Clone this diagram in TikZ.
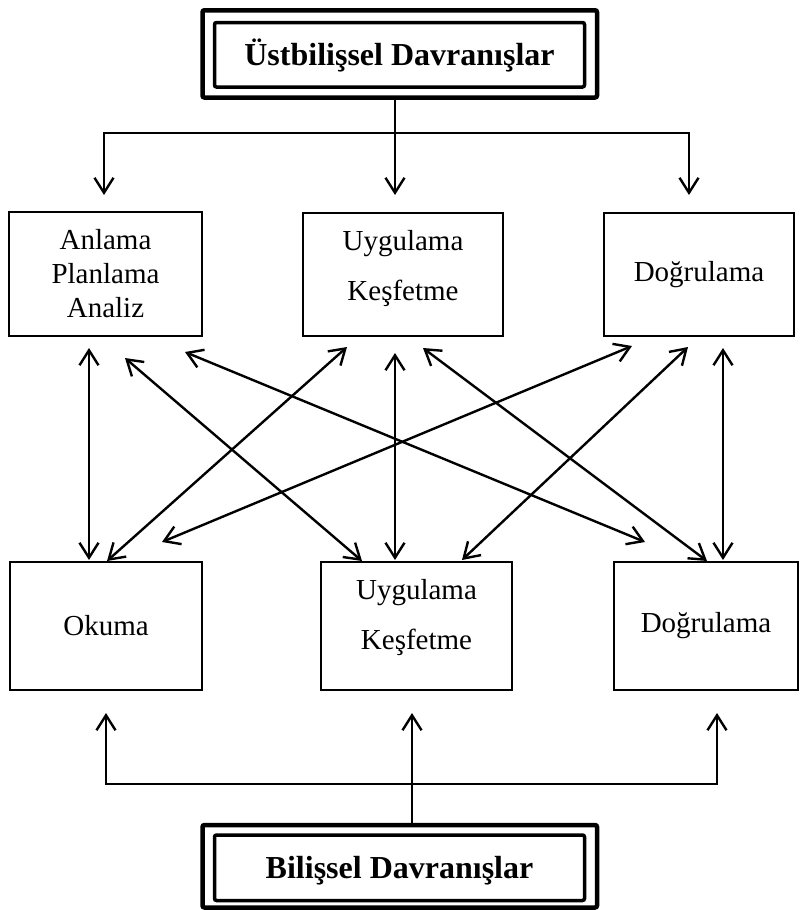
\documentclass[tikz,border=0pt]{standalone}
\usepackage{fontspec}
\setmainfont{Liberation Serif}
\usetikzlibrary{arrows.meta}
\begin{document}
\begin{tikzpicture}[x=1pt,y=-1pt,
  >={Straight Barb[length=15pt,width=19pt]},
  box/.style={draw, line width=1.4pt, inner sep=0pt, outer sep=0pt, align=center,
    font=\fontsize{29}{34}\selectfont},
  boxtext/.style={inner sep=0pt, outer sep=0pt, align=center,
    font=\fontsize{29}{50}\selectfont},
  headbox/.style={draw, line width=3.5pt, rounded corners=2pt, inner sep=0pt, outer sep=0pt,
    minimum width=370pt, text height=23pt, text depth=2.5pt,
    font=\bfseries\fontsize{32}{36}\selectfont},
  frame/.style={line width=4.5pt, rounded corners=2pt},
  link/.style={line width=2.4pt}]
\useasboundingbox[fill=white] (0,0) rectangle (800,910);

% heading boxes with double frame
\node[headbox, minimum height=64.5pt] (T) at (399.5,54.75) {Üstbilişsel Davranışlar};
\draw[frame] ([shift={(-12,-12.25)}]T.north west) rectangle ([shift={(12.5,10.5)}]T.south east);
\node[headbox, minimum height=65.5pt] (Bt) at (399.5,867.75) {Bilişsel Davranışlar};
\draw[frame] ([shift={(-12,-10)}]Bt.north west) rectangle ([shift={(12.5,7)}]Bt.south east);

% upper row
\node[box, minimum width=193pt, minimum height=124pt] (A1) at (105.5,274) {Anlama\\Planlama\\Analiz};
\node[box, minimum width=200pt, minimum height=123pt] (A2) at (403,274.5) {};
\node[boxtext] (A2t) at ([shift={(0,-6.25)}]A2.center) {Uygulama\\Keşfetme};
\node[box, minimum width=190pt, minimum height=123pt] (A3) at (699,274.5) {Doğrulama};

% lower row
\node[box, minimum width=192pt, minimum height=128pt] (B1) at (106,626) {Okuma};
\node[box, minimum width=191pt, minimum height=128pt] (B2) at (416.5,626) {};
\node[boxtext] (B2t) at ([shift={(0,-8.75)}]B2.center) {Uygulama\\Keşfetme};
\node[box, minimum width=184pt, minimum height=128pt] (B3) at (706,626) {Doğrulama};

% top distribution
\coordinate (ts) at ([shift={(-4.5,10.5)}]T.south);
\coordinate (tj) at ([shift={(-4.5,46)}]T.south);
\coordinate (a1in) at ([shift={(-1.5,-17)}]A1.north);
\coordinate (a2in) at ([shift={(-8,-18)}]A2.north);
\coordinate (a3in) at ([shift={(-10,-18)}]A3.north);
\draw[link,<->] (a1in) |- (tj) -| (a3in);
\draw[link,->] (ts) -- (a2in);

% bottom distribution
\coordinate (bs) at ([shift={(12.5,-10)}]Bt.north);
\coordinate (bj) at ([shift={(12.5,-51)}]Bt.north);
\coordinate (b1in) at ([shift={(0,23)}]B1.south);
\coordinate (b2in) at ([shift={(-4.5,23)}]B2.south);
\coordinate (b3in) at ([shift={(11,23)}]B3.south);
\draw[link,<->] (b1in) |- (bj) -| (b3in);
\draw[link,->] (bs) -- (b2in);

% links between the rows
\coordinate (p1a) at ([shift={(-16.5,12)}]A1.south);
\coordinate (p1b) at ([shift={(-17,-2)}]B1.north);
\coordinate (p2a) at ([shift={(19.5,22)}]A1.south);
\coordinate (p2b) at ([shift={(-54.5,-1)}]B2.north);
\coordinate (p3a) at ([shift={(79.5,16)}]A1.south);
\coordinate (p3b) at ([shift={(-61,-20)}]B3.north);
\coordinate (p4a) at ([shift={(-56,11)}]A2.south);
\coordinate (p4b) at ([shift={(1,-1)}]B1.north);
\coordinate (p5a) at ([shift={(-8,17)}]A2.south);
\coordinate (p5b) at ([shift={(-21.5,-2)}]B2.north);
\coordinate (p6a) at ([shift={(20,12)}]A2.south);
\coordinate (p6b) at ([shift={(1,-1)}]B3.north);
\coordinate (p7a) at ([shift={(-67,10)}]A3.south);
\coordinate (p7b) at ([shift={(56,-20)}]B1.north);
\coordinate (p8a) at ([shift={(-11,11)}]A3.south);
\coordinate (p8b) at ([shift={(45.5,-2)}]B2.north);
\coordinate (p9a) at ([shift={(24,12)}]A3.south);
\coordinate (p9b) at ([shift={(17,-2)}]B3.north);
\foreach \i in {1,...,9}
  \draw[link,<->] (p\i a) -- (p\i b);
\end{tikzpicture}
\end{document}
